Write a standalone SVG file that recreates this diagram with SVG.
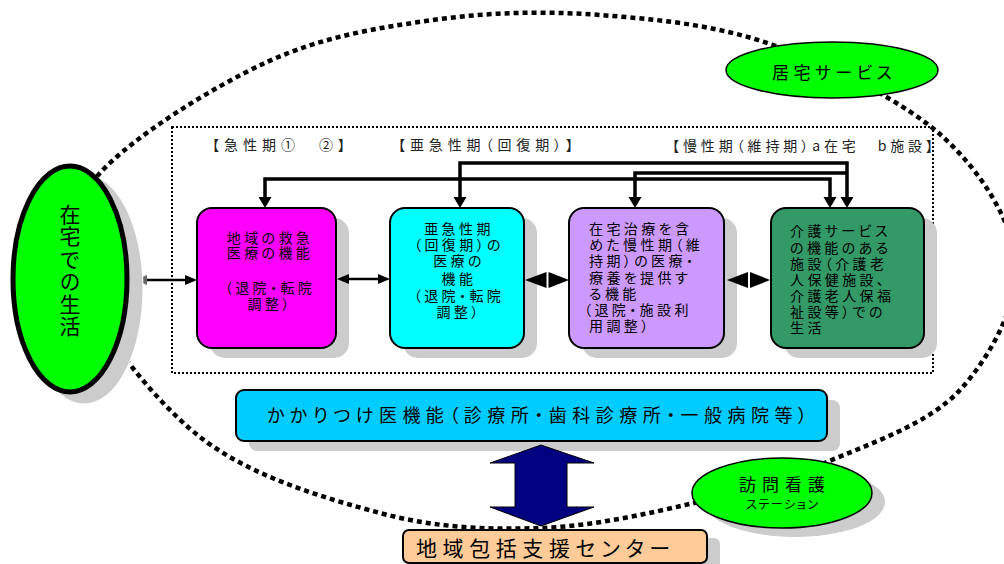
<svg xmlns="http://www.w3.org/2000/svg" width="1004" height="564" viewBox="0 0 1004 564">
<style>
text{font-family:"Noto Sans CJK JP","Noto Sans",sans-serif;fill:#000;dominant-baseline:central;font-feature-settings:"palt"}
.hd{font-size:14px;fill:#222}
.bx{font-size:14px;letter-spacing:3.4px}
.c{text-anchor:middle}
.shadow{fill:#cccccc}
.box{stroke:#000;stroke-width:2}
.conn{fill:none;stroke:#000;stroke-width:3.5}
.thin{fill:none;stroke:#000;stroke-width:2.5}
.vt{writing-mode:vertical-rl;font-feature-settings:normal;dominant-baseline:auto}
</style>
<rect width="1004" height="564" fill="#fff"/>

<!-- big dotted boundary -->
<path id="boundary" d="M75,275 C58.3,231 68,208.5 100,173 C132,137.5 211.5,87.5 267,62 C322.5,36.5 377.5,27.8 433,20 C488.5,12.2 543.3,10.8 600,15 C656.7,19.2 715.8,24.7 773,45 C830.2,65.3 903.5,100.8 943,137 C982.5,173.2 1011,219.8 1016,262 C1019,304.2 990.5,356.7 960,390 C929.5,423.3 871.3,443.2 827,462 C782.7,480.8 741.8,492 694,503 C646.2,514 592.3,526.3 540,528 C487.7,529.7 436.7,528.2 380,513 C323.3,497.8 250.8,476.7 200,437 C149.2,397.3 91.7,319 75,275 Z" fill="none" stroke="#000" stroke-width="4.5" stroke-dasharray="5 4"/>

<!-- dotted frame -->
<rect id="frame" x="172" y="127" width="761" height="246" fill="none" stroke="#000" stroke-width="2" stroke-dasharray="2 2"/>

<g id="headers">
<text class="hd" x="212" y="144" textLength="133" lengthAdjust="spacing">【急性期①　②】</text>
<text class="hd" x="398" y="144" textLength="175" lengthAdjust="spacing">【亜急性期（回復期）】</text>
<text class="hd" x="672" y="145" textLength="261" lengthAdjust="spacing">【慢性期（維持期）a在宅　b施設】</text>
</g>

<g id="acute">
<rect class="shadow" x="210" y="218" width="139" height="140" rx="15"/>
<rect class="box" x="197" y="208" width="139" height="140" rx="15" fill="#FF00FF"/>
<text class="bx c" y="237"><tspan x="270">地域の救急</tspan><tspan x="270" dy="15">医療の機能</tspan><tspan x="270" dy="35">（退院・転院</tspan><tspan x="270" dy="16">調整）</tspan></text>
</g>

<g id="subacute">
<rect class="shadow" x="403" y="218" width="134" height="140" rx="15"/>
<rect class="box" x="390" y="208" width="134" height="140" rx="15" fill="#00FFFF"/>
<text class="bx c" y="228"><tspan x="459">亜急性期</tspan><tspan x="459" dy="16">（回復期）の</tspan><tspan x="459" dy="16">医療の</tspan><tspan x="459" dy="18">機能</tspan><tspan x="459" dy="17">（退院・転院</tspan><tspan x="459" dy="16">調整）</tspan></text>
</g>

<g id="chronic-home">
<rect class="shadow" x="582" y="218" width="155" height="140" rx="15"/>
<rect class="box" x="569" y="208" width="155" height="140" rx="15" fill="#CC99FF"/>
<text class="bx" y="228"><tspan x="589">在宅治療を含</tspan><tspan x="589" dy="16">めた慢性期（維</tspan><tspan x="589" dy="16">持期）の医療・</tspan><tspan x="589" dy="17">療養を提供す</tspan><tspan x="589" dy="16">る機能</tspan><tspan x="584" dy="16">（退院・施設利</tspan><tspan x="589" dy="16">用調整）</tspan></text>
</g>

<g id="chronic-facility">
<rect class="shadow" x="784" y="218" width="153" height="140" rx="15"/>
<rect class="box" x="771" y="208" width="153" height="140" rx="15" fill="#339966"/>
<text class="bx" y="230"><tspan x="790">介護サービス</tspan><tspan x="790" dy="17">の機能のある</tspan><tspan x="790" dy="16">施設（介護老</tspan><tspan x="790" dy="16">人保健施設、</tspan><tspan x="790" dy="16">介護老人保福</tspan><tspan x="790" dy="16">祉設等）での</tspan><tspan x="790" dy="16">生活</tspan></text>
</g>

<g id="connectors">
<path class="conn" d="M265,199 V179 H830 V199"/>
<path class="conn" d="M460,199 V163 H847 V199"/>
<path class="conn" d="M635,199 V173 H847"/>
<polygon points="265,208 258.5,197 271.5,197"/>
<polygon points="460,208 453.5,197 466.5,197"/>
<polygon points="635,208 628.5,197 641.5,197"/>
<polygon points="830,208 823.5,197 836.5,197"/>
<polygon points="847,208 840.5,197 853.5,197"/>

<line class="thin" x1="146" y1="280" x2="187" y2="280"/>
<polygon points="135,280 147,275 147,285" fill="#666"/>
<polygon points="197,280 185,275 185,285"/>

<line class="thin" x1="347" y1="279" x2="380" y2="279"/>
<polygon points="337,279 349,274 349,284"/>
<polygon points="390,279 378,274 378,284"/>

<polygon points="525,280 546.5,272 546.5,288"/>
<polygon points="569,280 548.5,272 548.5,288"/>
<polygon points="727,280 748,272 748,288"/>
<polygon points="770,280 750,272 750,288"/>
</g>

<g id="home-life">
<ellipse cx="84" cy="289" rx="59" ry="115" fill="#cccccc" stroke="#fff" stroke-width="1"/>
<ellipse cx="70" cy="279" rx="57" ry="113" fill="#00FF00" stroke="#000" stroke-width="5"/>
<text class="vt" x="70" y="271" font-size="21" letter-spacing="1.5" text-anchor="middle">在宅での生活</text>
</g>

<g id="home-service">
<ellipse cx="832" cy="70" rx="106" ry="28" fill="#00FF00" stroke="#000" stroke-width="1.5"/>
<text x="772" y="71" font-size="17" textLength="120" lengthAdjust="spacing">居宅サービス</text>
</g>

<g id="family-doctor">
<rect class="shadow" x="249" y="400" width="591" height="51" rx="8"/>
<rect class="box" x="236" y="390" width="591" height="51" rx="8" fill="#00CCFF"/>
<text x="267" y="414" font-size="18" textLength="540" lengthAdjust="spacing">かかりつけ医機能（診療所・歯科診療所・一般病院等）</text>
</g>

<g id="link-arrow">
<polygon points="541,445 594,463 567,463 567,507 594,507 541,526 490,507 515,507 515,463 490,463" fill="#000080" stroke="#000" stroke-width="1"/>
</g>

<g id="visit-nursing">
<ellipse cx="795" cy="502" rx="90" ry="35" fill="#cccccc"/>
<ellipse cx="782" cy="493" rx="90" ry="35" fill="#00FF00" stroke="#000" stroke-width="1.5"/>
<text x="739" y="483" font-size="17" textLength="86" lengthAdjust="spacing">訪問看護</text>
<text x="746" y="503" font-size="12" textLength="72" lengthAdjust="spacing">ステーション</text>
</g>

<g id="support-center">
<rect class="shadow" x="416" y="538" width="304" height="40" rx="6"/>
<rect class="box" x="403" y="530" width="304" height="33" rx="6" fill="#FFCC99"/>
<text x="416" y="547" font-size="21" textLength="254" lengthAdjust="spacing">地域包括支援センター</text>
</g>
</svg>
